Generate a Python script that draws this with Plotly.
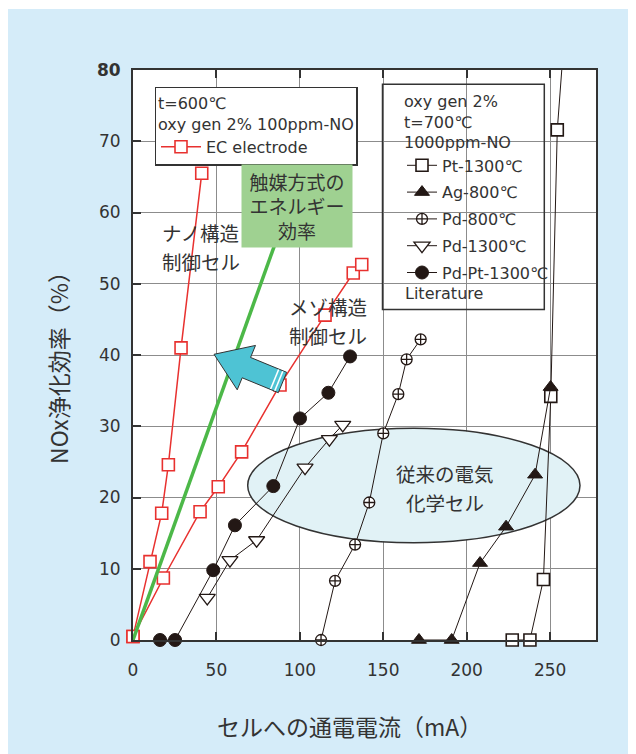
import plotly.graph_objects as go

# ---------------- data ----------------
ec_nano_x = [0, 10.2, 17.2, 21.2, 28.8, 41.2]
ec_nano_y = [0.5, 11.0, 17.8, 24.6, 41.0, 65.5]
ec_meso_x = [0, 18.2, 40.2, 51.1, 65.1, 88.1, 115.1, 132.0, 137.1]
ec_meso_y = [0.5, 8.7, 18.0, 21.5, 26.4, 35.8, 45.6, 51.5, 52.7]
catalyst_x = [0, 85]
catalyst_y = [0, 55.5]
pt1300_x = [227.3, 237.9, 246.0, 250.4, 254.3, 260.8]
pt1300_y = [0, 0, 8.5, 34.2, 71.6, 92]
ag800_x = [171.4, 191.0, 208.0, 223.6, 241.0, 250.3]
ag800_y = [0, 0, 10.8, 15.9, 23.2, 35.5]
pd800_x = [112.7, 121.1, 133.1, 141.6, 150.0, 159.0, 164.0, 172.4]
pd800_y = [0, 8.3, 13.4, 19.3, 29.0, 34.5, 39.4, 42.2]
pd1300_x = [44.5, 58.1, 74.1, 103.1, 117.7, 125.7]
pd1300_y = [5.9, 11.2, 14.0, 24.2, 28.2, 30.2]
pdpt1300_x = [16.2, 25.2, 48.1, 61.1, 84.1, 100.1, 117.1, 130.1]
pdpt1300_y = [0, 0, 9.8, 16.1, 21.6, 31.1, 34.7, 39.8]

x_ticks = [0, 50, 100, 150, 200, 250]
y_ticks = [0, 10, 20, 30, 40, 50, 60, 70, 80]
y_ticktext = ["0", "10", "20", "30", "40", "50", "60", "70", "<b>80</b>"]

# ---------------- styles ----------------
RED = "#e8312f"
BLK = "#231815"
TXT = "#333333"
BG = "#d5ecf9"
LAT = "DejaVu Sans, Noto Sans CJK JP"
JP = "Noto Sans CJK JP"

# page offset (browser body margin)
OFF = 8
# plot area in picture pixels
PL, PR, PT, PB = 133, 596, 70, 640
W, H = 636 - OFF, 754 - OFF
ML, MT = PL - OFF, PT - OFF
MR, MB = W - (PR - OFF), H - (PB - OFF)
X_RANGE = [0, 277.5]
Y_RANGE = [0, 80]
PW, PH = PR - PL, PB - PT


def px2x(px):
    return X_RANGE[0] + (px - PL) / PW * (X_RANGE[1] - X_RANGE[0])


def py2y(py):
    return Y_RANGE[0] + (PB - py) / PH * (Y_RANGE[1] - Y_RANGE[0])


def ppx(px):
    return (px - PL) / PW


def ppy(py):
    return (PB - py) / PH


fig = go.Figure()

# EC electrode (nano & meso)
fig.add_trace(go.Scatter(
    x=ec_nano_x, y=ec_nano_y, mode="lines+markers", name="EC electrode",
    line=dict(color=RED, width=1.5),
    marker=dict(symbol="square", size=12, color="white", line=dict(color=RED, width=1.6)),
    legend="legend", cliponaxis=False))
fig.add_trace(go.Scatter(
    x=ec_meso_x, y=ec_meso_y, mode="lines+markers", name="EC electrode",
    line=dict(color=RED, width=1.5), showlegend=False,
    marker=dict(symbol="square", size=12, color="white", line=dict(color=RED, width=1.6)),
    cliponaxis=False))
# catalyst energy efficiency
fig.add_trace(go.Scatter(
    x=catalyst_x, y=catalyst_y, mode="lines", showlegend=False,
    line=dict(color="#4cb848", width=3.5), hoverinfo="skip"))

common = dict(mode="lines+markers", line=dict(color=BLK, width=1), legend="legend2",
              cliponaxis=False)
fig.add_trace(go.Scatter(x=pt1300_x, y=pt1300_y, name="Pt-1300℃", legendgroup="a",
                         marker=dict(symbol="square", size=12, color="white",
                                     line=dict(color=BLK, width=1.6)), **common))
fig.add_trace(go.Scatter(x=ag800_x, y=ag800_y, name="Ag-800℃", legendgroup="b",
                         marker=dict(symbol="triangle-up", size=13, color=BLK,
                                     line=dict(color=BLK, width=1)), **common))
fig.add_trace(go.Scatter(x=pd800_x, y=pd800_y, name="Pd-800℃", legendgroup="c",
                         marker=dict(symbol="circle-cross", size=11, color="white",
                                     line=dict(color=BLK, width=1.3)), **common))
fig.add_trace(go.Scatter(x=pd1300_x, y=pd1300_y, name="Pd-1300℃", legendgroup="d",
                         marker=dict(symbol="triangle-down", size=14, color="white",
                                     line=dict(color=BLK, width=1.3)), **common))
fig.add_trace(go.Scatter(x=pdpt1300_x, y=pdpt1300_y, name="Pd-Pt-1300℃", legendgroup="e",
                         marker=dict(symbol="circle", size=13, color=BLK,
                                     line=dict(color=BLK, width=1)), **common))

# ---------------- decorations ----------------
shapes = []
# thin white strip at the top edge of the picture
shapes.append(dict(type="rect", xref="paper", yref="paper", x0=ppx(0), x1=ppx(640),
                   y0=ppy(9), y1=ppy(OFF - 1), fillcolor="white", line=dict(width=0),
                   layer="below"))
# ellipse (conventional cells)
shapes.append(dict(type="circle", xref="x", yref="y",
                   x0=px2x(247.7), x1=px2x(580), y0=py2y(542.7), y1=py2y(428.3),
                   fillcolor="#e1f2f6", line=dict(color=TXT, width=1.5), layer="between"))
# box around second legend
shapes.append(dict(type="rect", xref="paper", yref="paper",
                   x0=ppx(382.5), x1=ppx(544.3), y0=ppy(309.6), y1=ppy(84.3),
                   line=dict(color=TXT, width=1.5), fillcolor="rgba(0,0,0,0)", layer="above"))

# cyan arrow (built in pixel space, converted to axis units)
tip = (214.0, 354.3)
tail = (282.5, 382.5)
dx, dy = tail[0] - tip[0], tail[1] - tip[1]
ln = (dx * dx + dy * dy) ** 0.5
ux, uy = dx / ln, dy / ln
nx, ny = -uy, ux
Lh, Wh, Ws = 35.0, 24.0, 11.0
bx, by = tip[0] + ux * Lh, tip[1] + uy * Lh
pts = [tip,
       (bx + nx * Wh, by + ny * Wh),
       (bx + nx * Ws, by + ny * Ws),
       (tail[0] + nx * Ws, tail[1] + ny * Ws),
       (tail[0] - nx * Ws, tail[1] - ny * Ws),
       (bx - nx * Ws, by - ny * Ws),
       (bx - nx * Wh, by - ny * Wh)]
path = "M " + " L ".join(f"{px2x(p[0]):.3f},{py2y(p[1]):.3f}" for p in pts) + " Z"
shapes.append(dict(type="path", xref="x", yref="y", path=path, fillcolor="#4ec3d4",
                   line=dict(color=TXT, width=1), layer="above"))
for d in (4.0, 8.5):
    cx, cy = tail[0] - ux * d, tail[1] - uy * d
    shapes.append(dict(type="line", xref="x", yref="y",
                       x0=px2x(cx + nx * (Ws - 0.5)), y0=py2y(cy + ny * (Ws - 0.5)),
                       x1=px2x(cx - nx * (Ws - 0.5)), y1=py2y(cy - ny * (Ws - 0.5)),
                       line=dict(color="white", width=1.6), layer="above"))

JPF = dict(family=JP, size=19.5, color=TXT)


def label(text, px, py, anchor):
    return dict(x=px2x(px), y=py2y(py), xref="x", yref="y", showarrow=False,
                xanchor=anchor, yanchor="middle", text=text, font=JPF)


annotations = [
    label("ナノ構造", 160, 232.5, "left"),
    label("制御セル", 160, 261, "left"),
    label("メゾ構造", 286.7, 306.5, "left"),
    label("制御セル", 286.7, 335, "left"),
    label("従来の電気", 445, 473.5, "center"),
    label("化学セル", 445, 502, "center"),
    dict(x=px2x(296.7), y=py2y(205.8), xref="x", yref="y", showarrow=False,
         text="触媒方式の<br>エネルギー<br>効率", align="center",
         bgcolor="#9fd191", width=104, height=76, borderpad=3,
         font=dict(family=JP, size=19, color=TXT)),
    dict(x=ppx(403), y=ppy(293.3), xref="paper", yref="paper", showarrow=False,
         xanchor="left", yanchor="middle", text="Literature",
         font=dict(family=LAT, size=16, color=TXT)),
    dict(x=ppx(349), y=ppy(726), xref="paper", yref="paper", showarrow=False,
         xanchor="center", yanchor="middle",
         text="セルへの通電電流（mA）", font=dict(family=JP, size=23, color=TXT)),
    dict(x=ppx(58), y=ppy(362), xref="paper", yref="paper", showarrow=False,
         xanchor="center", yanchor="middle",
         textangle=-90, text="NOx浄化効率（%）", font=dict(family=JP, size=23, color=TXT)),
]

fig.update_layout(
    width=W, height=H,
    margin=dict(l=ML, r=MR, t=MT, b=MB, pad=0, autoexpand=False),
    paper_bgcolor=BG, plot_bgcolor="white",
    font=dict(family=LAT, color=TXT),
    shapes=shapes, annotations=annotations,
    legend=dict(x=ppx(154.5), y=ppy(86.7), xanchor="left", yanchor="top",
                bgcolor="white", bordercolor=TXT, borderwidth=1.5,
                itemwidth=40,
                title=dict(text="t=600℃<br>oxy gen 2% 100ppm-NO",
                           font=dict(family=LAT, size=16, color=TXT)),
                font=dict(family=LAT, size=16, color=TXT)),
    legend2=dict(x=ppx(402), y=ppy(86), xanchor="left", yanchor="top",
                 bgcolor="rgba(0,0,0,0)", borderwidth=0, traceorder="grouped",
                 tracegroupgap=3,
                 title=dict(text="oxy gen 2%<br>t=700℃<br>1000ppm-NO",
                            font=dict(family=LAT, size=16, color=TXT)),
                 font=dict(family=LAT, size=16, color=TXT)),
    xaxis=dict(range=X_RANGE, tickvals=x_ticks, showgrid=True, gridcolor="#8c8c8c",
               gridwidth=1, zeroline=False, showline=True, linecolor=TXT, linewidth=2,
               mirror="ticks", ticks="inside", ticklen=8, tickwidth=2, tickcolor=TXT,
               ticklabelstandoff=14, tickfont=dict(family=LAT, size=17, color=TXT)),
    yaxis=dict(range=Y_RANGE, tickvals=y_ticks, ticktext=y_ticktext, showgrid=True,
               gridcolor="#8c8c8c", gridwidth=1, zeroline=False, showline=True,
               linecolor=TXT, linewidth=2, mirror=True, ticks="inside", ticklen=8,
               tickwidth=2, tickcolor=TXT, ticklabelstandoff=7,
               tickfont=dict(family=LAT, size=17, color=TXT)),
)

fig.write_html("out.html")
